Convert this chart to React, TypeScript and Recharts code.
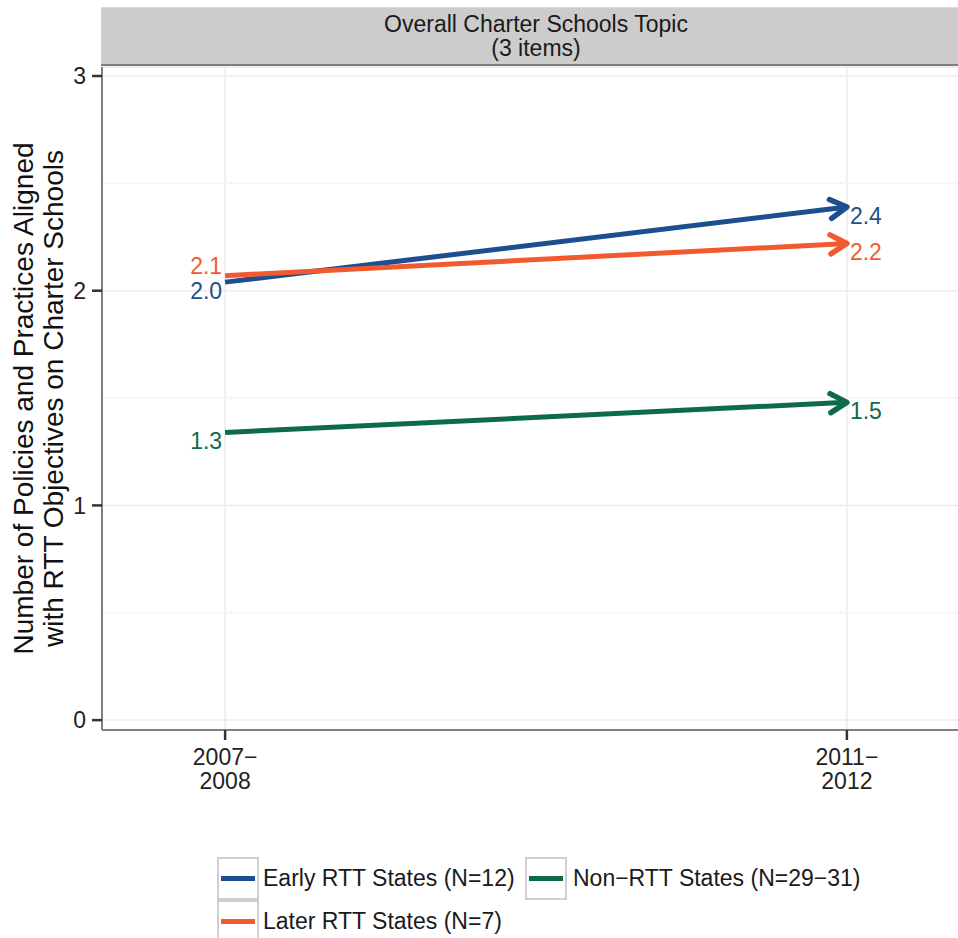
import React from "react";
import {
  LineChart,
  Line,
  XAxis,
  YAxis,
  CartesianGrid,
  ReferenceLine,
  LabelList,
  Label,
} from "recharts";

// periods on the x axis (two-line tick labels)
const periods = ["2007\u2212\n2008", "2011\u2212\n2012"];

// average number of aligned policies per group
const early = [2.04, 2.39];
const later = [2.07, 2.22];
const nonRtt = [1.34, 1.48];

const yTicks = [0, 1, 2, 3];
const yMinor = [0.5, 1.5, 2.5];

const series = [
  { key: "early", name: "Early RTT States (N=12)", color: "#1d4e8f", startAbove: false },
  { key: "later", name: "Later RTT States (N=7)", color: "#f15a2e", startAbove: true },
  { key: "nonRtt", name: "Non\u2212RTT States (N=29\u221231)", color: "#0d6b4b", startAbove: false },
];

const data = periods.map((p, i) => ({
  x: i + 1,
  period: p,
  early: early[i],
  later: later[i],
  nonRtt: nonRtt[i],
}));

const FONT = '"Liberation Sans", Arial, sans-serif';
const TXT = 23;

function PeriodTick(props: any) {
  const { x, y, payload } = props;
  const lines = periods[payload.value - 1].split("\n");
  return (
    <text x={x} y={y} textAnchor="middle" fontSize={TXT} fill="#222" fontFamily={FONT}>
      {lines.map((l, i) => (
        <tspan key={i} x={x} y={y + 25 + i * 24}>
          {l}
        </tspan>
      ))}
    </text>
  );
}

function YTitle(props: any) {
  const vb = props.viewBox || { x: 0, y: 67, height: 663 };
  const cy = vb.y + vb.height / 2;
  const x1 = vb.x + 33;
  const x2 = vb.x + 63;
  return (
    <g fontFamily={FONT} fontSize={28} fill="#111">
      <text x={x1} y={cy} textAnchor="middle" transform={`rotate(-90, ${x1}, ${cy})`}>
        Number of Policies and Practices Aligned
      </text>
      <text x={x2} y={cy} textAnchor="middle" transform={`rotate(-90, ${x2}, ${cy})`}>
        with RTT Objectives on Charter Schools
      </text>
    </g>
  );
}

const makeArrow = (color: string) => (props: any) => {
  const { cx, cy, index, points } = props;
  if (index !== data.length - 1 || cx == null) return <g key={`d-${index}`} />;
  let ang = 0;
  if (points && points[index - 1]) {
    const prev = points[index - 1];
    ang = Math.atan2(cy - prev.y, cx - prev.x);
  }
  const len = 19;
  const spread = Math.PI / 6;
  const ax = cx - len * Math.cos(ang - spread);
  const ay = cy - len * Math.sin(ang - spread);
  const bx = cx - len * Math.cos(ang + spread);
  const by = cy - len * Math.sin(ang + spread);
  return (
    <polyline
      key={`d-${index}`}
      points={`${ax},${ay} ${cx},${cy} ${bx},${by}`}
      fill="none"
      stroke={color}
      strokeWidth={5.5}
      strokeLinejoin="round"
      strokeLinecap="round"
    />
  );
};

const makeLabel = (color: string, startAbove: boolean) => (props: any) => {
  const { x, y, value, index } = props;
  const first = index === 0;
  const tx = first ? x - 3 : x + 3;
  const ty = first && startAbove ? y - 2 : y + 17;
  return (
    <text
      key={`l-${index}`}
      x={tx}
      y={ty}
      textAnchor={first ? "end" : "start"}
      fontSize={TXT}
      fill={color}
      fontFamily={FONT}
    >
      {Number(value).toFixed(1)}
    </text>
  );
};

export default function App() {
  const legendCols = [217, 525];
  const legendTextCols = [263, 573];
  return (
    <div
      style={{
        position: "absolute",
        left: 0,
        top: 0,
        width: 958,
        height: 938,
        overflow: "hidden",
        background: "#fff",
        fontFamily: FONT,
      }}
    >
      <LineChart width={970} height={938} data={data} margin={{ top: 67, right: 0, left: 0, bottom: 0 }}>
        <CartesianGrid stroke="#ebebeb" strokeWidth={1.5} />
        {yMinor.map((v) => (
          <ReferenceLine key={v} y={v} stroke="#f5f5f5" strokeWidth={1.5} />
        ))}
        <XAxis
          dataKey="x"
          type="number"
          domain={[0.802, 2.198]}
          ticks={[1, 2]}
          allowDataOverflow
          height={208}
          tickSize={10}
          tickMargin={0}
          tickLine={{ stroke: "#333", strokeWidth: 2.5 }}
          axisLine={{ stroke: "#7f7f7f", strokeWidth: 2 }}
          tick={<PeriodTick />}
        />
        <YAxis
          type="number"
          domain={[-0.046, 3.042]}
          ticks={yTicks}
          allowDataOverflow
          width={102}
          tickSize={10}
          tickMargin={6}
          tickLine={{ stroke: "#333", strokeWidth: 2.5 }}
          axisLine={{ stroke: "#7f7f7f", strokeWidth: 2 }}
          tick={{ fontSize: TXT, fill: "#222", fontFamily: FONT }}
        >
          <Label content={<YTitle />} />
        </YAxis>
        {series.map((s) => (
          <Line
            key={s.key}
            dataKey={s.key}
            name={s.name}
            stroke={s.color}
            strokeWidth={5}
            type="linear"
            dot={makeArrow(s.color)}
            activeDot={false}
            isAnimationActive={false}
          >
            <LabelList dataKey={s.key} content={makeLabel(s.color, s.startAbove)} />
          </Line>
        ))}
      </LineChart>

      {/* facet strip */}
      <div
        style={{
          position: "absolute",
          left: 101,
          top: 7,
          width: 870,
          height: 59,
          background: "#cccccc",
          borderTop: "1px solid #d9d9d9",
          borderBottom: "2px solid #7f7f7f",
          boxSizing: "border-box",
          textAlign: "center",
          fontSize: TXT,
          lineHeight: "24px",
          color: "#1a1a1a",
          paddingTop: 4,
        }}
      >
        <div>Overall Charter Schools Topic</div>
        <div>(3 items)</div>
      </div>

      {/* legend */}
      {series.map((s, i) => {
        const col = Math.floor(i / 2);
        const row = i % 2;
        const top = 857 + row * 43;
        return (
          <React.Fragment key={s.key}>
            <div
              style={{
                position: "absolute",
                left: legendCols[col],
                top,
                width: 42,
                height: 43,
                border: "2px solid #cfcfcf",
                boxSizing: "border-box",
                background: "#fff",
              }}
            >
              <div
                style={{
                  position: "absolute",
                  left: 2,
                  right: 2,
                  top: 17,
                  height: 5,
                  background: s.color,
                }}
              />
            </div>
            <div
              style={{
                position: "absolute",
                left: legendTextCols[col],
                top: top + 8,
                fontSize: TXT,
                lineHeight: "26px",
                color: "#1a1a1a",
                whiteSpace: "nowrap",
              }}
            >
              {s.name}
            </div>
          </React.Fragment>
        );
      })}
    </div>
  );
}
